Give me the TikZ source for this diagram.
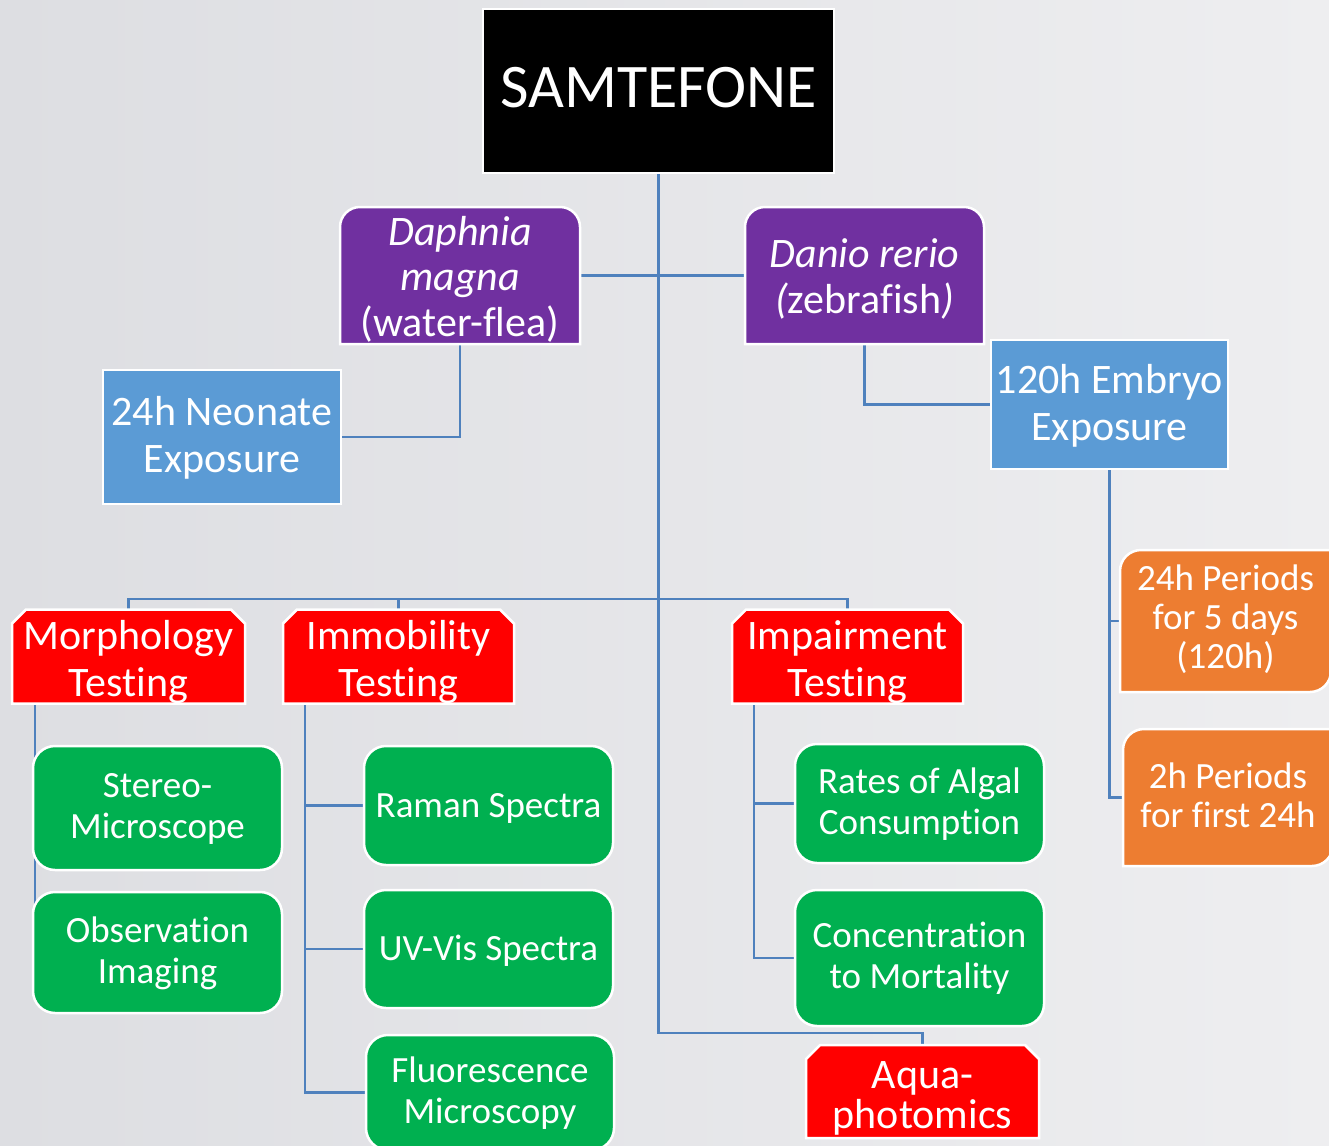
\documentclass[tikz,border=0pt]{standalone}
\usepackage{fontspec}
\setmainfont[Ligatures=NoCommon]{Carlito}
\usetikzlibrary{shapes.misc,backgrounds}

\definecolor{bgleft}{RGB}{221,222,226}
\definecolor{bgright}{RGB}{238,238,240}
\definecolor{linkblue}{RGB}{79,129,189}
\definecolor{speciespurple}{RGB}{112,48,160}
\definecolor{exposureblue}{RGB}{91,155,213}
\definecolor{testred}{RGB}{255,0,0}
\definecolor{methodgreen}{RGB}{0,176,80}
\definecolor{periodorange}{RGB}{237,125,49}

% boxes with only the top corners rounded
\newcommand{\topround}[2]{%
  \fill[#2, draw=white, line width=2.5pt]
    ([yshift=-20pt]#1.north west) arc[start angle=180, end angle=90, radius=20pt]
    -- ([xshift=-20pt]#1.north east) arc[start angle=90, end angle=0, radius=20pt]
    -- (#1.south east) -- (#1.south west) -- cycle;}
% boxes with top left and bottom right corners rounded
\newcommand{\diaground}[2]{%
  \fill[#2, draw=white, line width=2.5pt]
    ([yshift=-21pt]#1.north west) arc[start angle=180, end angle=90, radius=21pt]
    -- (#1.north east) -- ([yshift=21pt]#1.south east)
    arc[start angle=0, end angle=-90, radius=21pt]
    -- (#1.south west) -- cycle;}

\tikzset{
  box/.style={inner sep=0pt, outer sep=0pt, text=white, align=center,
    draw=white, line width=2.5pt},
  titlebox/.style={box, fill=black, font=\fontsize{62pt}{70pt}\selectfont,
    text height=40pt, text depth=6pt},
  speciesbox/.style={box, draw=none, font=\fontsize{42pt}{45.5pt}\selectfont},
  exposurebox/.style={box, fill=exposureblue, font=\fontsize{42pt}{47pt}\selectfont,
    text height=76pt, text depth=5pt},
  testbox/.style={box, fill=testred, font=\fontsize{42pt}{47pt}\selectfont,
    chamfered rectangle, chamfered rectangle corners={north west, north east},
    chamfered rectangle xsep=7pt, chamfered rectangle ysep=7pt,
    text height=80pt, text depth=-5pt},
  methodbox/.style={box, fill=methodgreen, rounded corners=22pt,
    font=\fontsize{37pt}{41pt}\selectfont, text height=65pt, text depth=4pt},
  oneline/.style={text height=30pt, text depth=7pt},
  periodbox/.style={box, draw=none, font=\fontsize{37pt}{39pt}\selectfont},
  link/.style={draw=linkblue, line width=2.5pt},
}

\begin{document}
\begin{tikzpicture}[x=1pt, y=1pt]
  \useasboundingbox (0,0) rectangle (1329,-1145);

  % top
  \node[titlebox, minimum width=351pt, minimum height=164pt] (sam) at (658.5,-91) {SAMTEFONE};

  % species
  \node[speciesbox, minimum width=240pt, minimum height=137pt, text height=125pt, text depth=4pt]
    (daphnia) at (460,-275.5) {\textit{Daphnia}\\\textit{magna}\\(water-flea)};
  \node[speciesbox, minimum width=239pt, minimum height=137pt, text height=80pt, text depth=5pt]
    (danio) at (864.5,-275.5) {\textit{Danio rerio}\\\textit{(}zebrafish\textit{)}};

  % exposure
  \node[exposurebox, minimum width=238pt, minimum height=134pt] (neonate) at (222,-437) {24h Neonate\\Exposure};
  \node[exposurebox, minimum width=237pt, minimum height=129pt] (embryo) at (1109.5,-404.5) {120h Embryo\\Exposure};

  % periods
  \node[periodbox, minimum width=211pt, minimum height=142pt, text height=97pt, text depth=3pt]
    (per24) at (1225.5,-621) {24h Periods\\for 5 days\\(120h)};
  \node[periodbox, minimum width=210pt, minimum height=137pt, text height=62pt, text depth=3pt]
    (per2) at (1228,-797.5) {2h Periods\\for first 24h};

  % tests
  \node[testbox, minimum width=233pt, minimum height=91pt] (morph) at (128.5,-656.5) {Morphology\\Testing};
  \node[testbox, minimum width=231pt, minimum height=91pt] (immob) at (398.5,-656.5) {Immobility\\Testing};
  \node[testbox, minimum width=231pt, minimum height=91pt] (impair) at (847.5,-656.5) {Impairment\\Testing};
  \node[testbox, minimum width=233pt, minimum height=93pt, font=\fontsize{42pt}{40pt}\selectfont,
    text height=74pt, text depth=-5pt] (aqua) at (922.5,-1091.5) {Aqua-\\photomics};

  % methods
  \node[methodbox, minimum width=249pt, minimum height=124pt] (stereo) at (157.5,-808) {Stereo-\\Microscope};
  \node[methodbox, minimum width=249pt, minimum height=121pt] (observ) at (157.5,-952.5) {Observation\\Imaging};
  \node[methodbox, oneline, minimum width=249pt, minimum height=119pt] (raman) at (488.5,-805.5) {Raman Spectra};
  \node[methodbox, oneline, minimum width=249pt, minimum height=118pt] (uvvis) at (488.5,-949) {UV-Vis Spectra};
  \node[methodbox, minimum width=248pt, minimum height=115pt] (fluor) at (490,-1092.5) {Fluorescence\\Microscopy};
  \node[methodbox, minimum width=249pt, minimum height=119pt] (algal) at (919.5,-803.5) {Rates of Algal\\Consumption};
  \node[methodbox, minimum width=249pt, minimum height=136pt] (mortal) at (919.5,-958) {Concentration\\to Mortality};

  \coordinate (bus) at (658.5,-599);

  \begin{scope}[on background layer]
    \shade[left color=bgleft, right color=bgright] (0,0) rectangle (1329,-1145);

    % links
    \draw[link] (sam.south) |- ([yshift=12pt]aqua.north) -- (aqua.north);
    \draw[link] (daphnia.east) -- (danio.west);
    \draw[link] (daphnia.south) |- (neonate.east);
    \draw[link] (danio.south) |- (embryo.west);
    \draw[link] (embryo.south) |- (per24.west);
    \draw[link] (embryo.south) |- (per2.west);
    \draw[link] (morph.north) |- (bus) -| (impair.north);
    \draw[link] (immob.north) |- (bus);
    \draw[link] ([xshift=-93.5pt]morph.south) |- (stereo.west);
    \draw[link] ([xshift=-93.5pt]morph.south) |- (observ.west);
    \foreach \m in {raman,uvvis,fluor}
      \draw[link] ([xshift=-93.5pt]immob.south) |- (\m.west);
    \draw[link] ([xshift=-93.5pt]impair.south) |- (algal.west);
    \draw[link] ([xshift=-93.5pt]impair.south) |- (mortal.west);

    % shaped boxes
    \topround{daphnia}{speciespurple}
    \topround{danio}{speciespurple}
    \diaground{per24}{periodorange}
    \diaground{per2}{periodorange}
  \end{scope}
\end{tikzpicture}
\end{document}
